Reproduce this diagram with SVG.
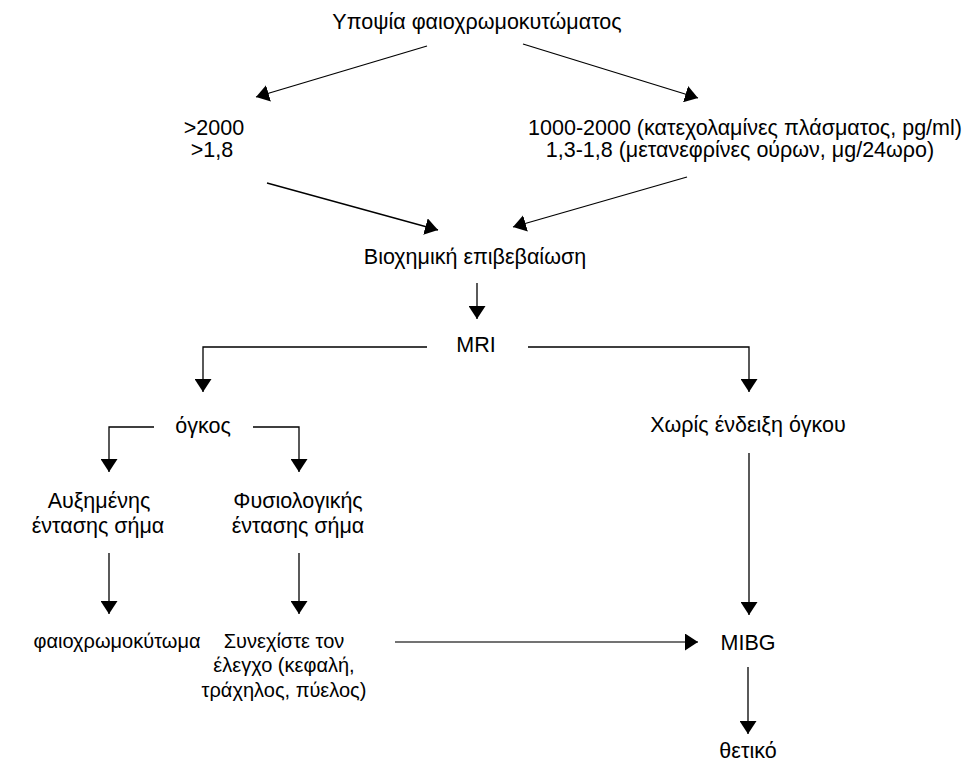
<svg xmlns="http://www.w3.org/2000/svg" width="963" height="765" viewBox="0 0 963 765">
<style>
  text { font-family: "Liberation Sans", Arial, sans-serif; font-size: 21.5px; fill: #000; text-anchor: middle; }
  .s { font-size: 20px; }
  .c { fill: none; stroke: #000; stroke-width: 1.3; marker-end: url(#ah); }
  .g { stroke: #444; stroke-width: 1.6; }
</style>
<defs>
  <marker id="ah" markerUnits="userSpaceOnUse" markerWidth="13" markerHeight="17" refX="13" refY="8.5" orient="auto">
    <path d="M0,0 L13,8.5 L0,17 z" fill="#000"/>
  </marker>
</defs>
<rect width="963" height="765" fill="#fff"/>
<g id="connectors">
  <path class="c" d="M427,46 L256,97"/>
  <path class="c" d="M523,44 L698,98"/>
  <path class="c" d="M267,183 L438,230"/>
  <path class="c" d="M687,177 L513,227"/>
  <path class="c" d="M477,283 L477,319"/>
  <path class="c" d="M427,347 H203 V392"/>
  <path class="c" d="M528,347 H749 V392"/>
  <path class="c" d="M154,427 H109 V472"/>
  <path class="c" d="M253,427 H299 V472"/>
  <path class="c" d="M109,553 V614"/>
  <path class="c" d="M299,553 V614"/>
  <path class="c" d="M749,453 V615"/>
  <path class="c g" d="M395,642 H698"/>
  <path class="c" d="M748,667 V734"/>
</g>
<g id="n-title"><text x="477" y="29">Υποψία φαιοχρωμοκυτώματος</text></g>
<g id="n-high"><text x="214" y="135">&gt;2000</text><text x="212" y="157">&gt;1,8</text></g>
<g id="n-mid"><text x="745" y="135">1000-2000 (κατεχολαμίνες πλάσματος, pg/ml)</text><text x="740" y="157">1,3-1,8 (μετανεφρίνες ούρων, μg/24ωρο)</text></g>
<g id="n-bio"><text x="475" y="264">Βιοχημική επιβεβαίωση</text></g>
<g id="n-mri"><text x="476" y="352">MRI</text></g>
<g id="n-ogkos"><text x="203" y="433">όγκος</text></g>
<g id="n-noTumor"><text x="748" y="432">Χωρίς ένδειξη όγκου</text></g>
<g id="n-high-signal"><text x="99" y="508">Αυξημένης</text><text x="98" y="533">έντασης σήμα</text></g>
<g id="n-normal-signal"><text x="298" y="508">Φυσιολογικής</text><text x="298" y="533">έντασης σήμα</text></g>
<g id="n-pheo"><text class="s" x="117" y="648">φαιοχρωμοκύτωμα</text></g>
<g id="n-continue"><text class="s" x="284" y="648">Συνεχίστε τον</text><text class="s" x="284" y="672">έλεγχο (κεφαλή,</text><text class="s" x="284" y="697">τράχηλος, πύελος)</text></g>
<g id="n-mibg"><text x="748" y="650">MIBG</text></g>
<g id="n-positive"><text x="748" y="758">θετικό</text></g>
</svg>
